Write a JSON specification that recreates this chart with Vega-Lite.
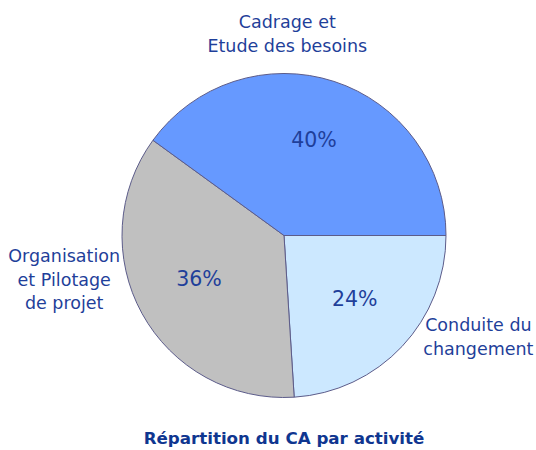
{
  "$schema": "https://vega.github.io/schema/vega-lite/v6.json",
  "width": 536,
  "height": 389,
  "autosize": {"type": "none"},
  "padding": {"left": 16, "top": 41, "right": 0, "bottom": 30},
  "background": "white",
  "view": {"stroke": null},
  "title": {
    "text": "Répartition du CA par activité",
    "orient": "bottom",
    "anchor": "middle",
    "frame": "group",
    "font": "DejaVu Sans",
    "fontSize": 16.7,
    "fontWeight": "bold",
    "color": "#0f3690",
    "offset": 1,
    "baseline": "top"
  },
  "data": {
    "values": [
      {"activite": "Conduite du changement", "libelle": "Conduite du\nchangement", "part": 0.24, "rang": 1},
      {"activite": "Organisation et Pilotage de projet", "libelle": "Organisation\net Pilotage\nde projet", "part": 0.36, "rang": 2},
      {"activite": "Cadrage et Etude des besoins", "libelle": "Cadrage et\nEtude des besoins", "part": 0.40, "rang": 3}
    ]
  },
  "encoding": {
    "theta": {
      "field": "part",
      "type": "quantitative",
      "stack": true,
      "scale": {"domain": [0, 1], "range": [1.5707963, 7.8539816]}
    },
    "order": {"field": "rang", "type": "quantitative"},
    "detail": {"field": "activite", "type": "nominal"}
  },
  "layer": [
    {
      "mark": {"type": "arc", "outerRadius": 162, "stroke": "#5c5c8a", "strokeWidth": 1},
      "encoding": {
        "color": {
          "field": "activite",
          "type": "nominal",
          "scale": {
            "domain": ["Conduite du changement", "Organisation et Pilotage de projet", "Cadrage et Etude des besoins"],
            "range": ["#CCE8FF", "#C0C0C0", "#6699FF"]
          },
          "legend": null
        }
      }
    },
    {
      "mark": {"type": "text", "radius": 97, "dy": -2, "font": "DejaVu Sans", "fontSize": 20.5, "baseline": "middle", "align": "center"},
      "encoding": {
        "text": {"field": "part", "type": "quantitative", "format": ".0%"},
        "color": {"value": "#1f3f9a"}
      }
    },
    {
      "mark": {"type": "text", "radius": 200, "dx": -58.5, "dy": -22.5, "font": "DejaVu Sans", "fontSize": 17.5, "lineHeight": 24, "lineBreak": "\n", "baseline": "middle", "align": "center"},
      "encoding": {
        "text": {"condition": {"test": "datum.rang === 3", "field": "libelle", "type": "nominal"}, "value": ""},
        "color": {"value": "#1f3f9a"}
      }
    },
    {
      "mark": {"type": "text", "radius": 220, "dx": -27, "dy": -84, "font": "DejaVu Sans", "fontSize": 17.5, "lineHeight": 23.5, "lineBreak": "\n", "baseline": "middle", "align": "center"},
      "encoding": {
        "text": {"condition": {"test": "datum.rang === 2", "field": "libelle", "type": "nominal"}, "value": ""},
        "color": {"value": "#1f3f9a"}
      }
    },
    {
      "mark": {"type": "text", "radius": 220, "dx": 34, "dy": -60, "font": "DejaVu Sans", "fontSize": 17.5, "lineHeight": 24, "lineBreak": "\n", "baseline": "middle", "align": "center"},
      "encoding": {
        "text": {"condition": {"test": "datum.rang === 1", "field": "libelle", "type": "nominal"}, "value": ""},
        "color": {"value": "#1f3f9a"}
      }
    }
  ]
}
